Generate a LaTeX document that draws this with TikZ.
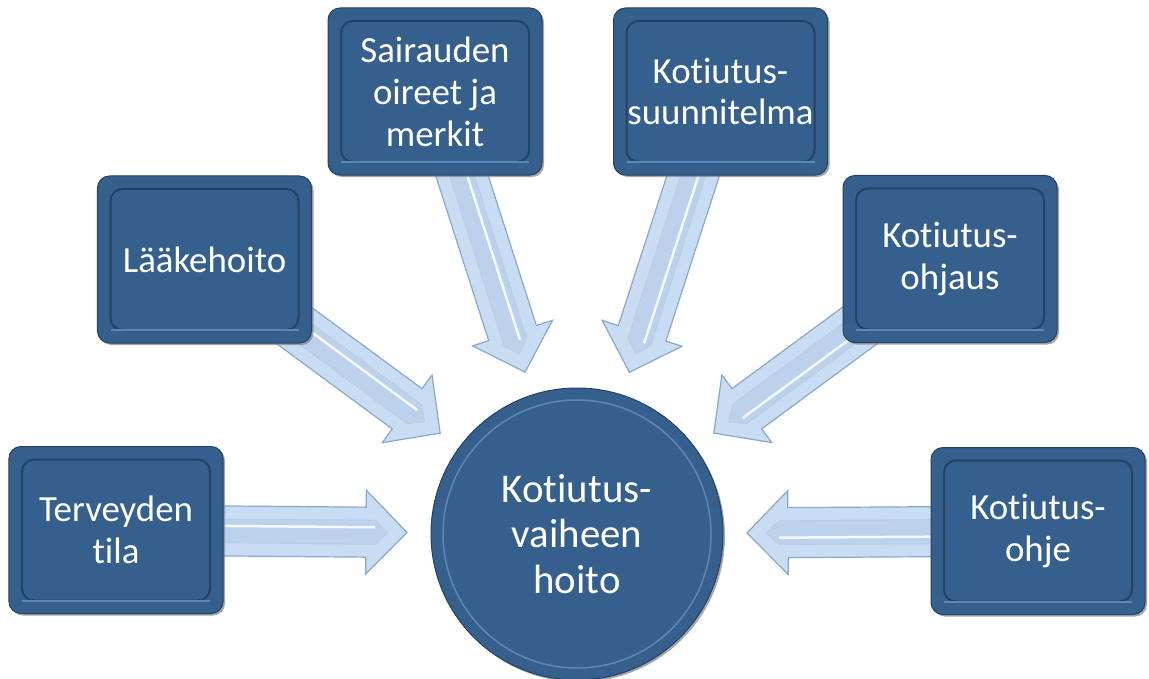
\documentclass[tikz,border=0pt]{standalone}
\usepackage{fontspec}
\setmainfont{Carlito}[RawFeature={-liga;-clig;-calt;-dlig}]
\usetikzlibrary{calc,shadows,backgrounds}

\definecolor{boxblue}{RGB}{53,96,141}
\definecolor{boxline}{RGB}{36,66,100}
\definecolor{boxbevel}{RGB}{92,134,180}
\definecolor{arrowfill}{RGB}{200,220,243}
\definecolor{arrowline}{RGB}{138,168,204}
\definecolor{arrowinner}{RGB}{188,209,236}

% #1 = box, #2 = tip
\newcommand\fatarrow[2]{%
  \coordinate (hb) at ($(#2)!41bp!(#1.center)$);
  \coordinate (ib) at ($(#2)!32bp!(#1.center)$);
  \coordinate (ip) at ($(#2)!19bp!(#1.center)$);
  \filldraw[arrowbody] ($(#1.center)!25bp!90:(#2)$) -- ($(hb)!25bp!90:(#2)$) --
    ($(hb)!42bp!90:(#2)$) -- (#2) -- ($(hb)!42bp!-90:(#2)$) --
    ($(hb)!25bp!-90:(#2)$) -- ($(#1.center)!25bp!-90:(#2)$) -- cycle;
  \filldraw[arrowcore] ($(#1.center)!12bp!90:(#2)$) -- ($(ib)!12bp!90:(#2)$) --
    (ip) -- ($(ib)!12bp!-90:(#2)$) -- ($(#1.center)!12bp!-90:(#2)$) -- cycle;
  \draw[arrowshine] ($(#1.center)!5bp!90:(#2)$) -- ($(ib)!5bp!90:(#2)$);
}

\begin{document}
\begin{tikzpicture}[x=1bp, y=-1bp,
  infobox/.style={rectangle, rounded corners=12bp, minimum width=214bp,
    minimum height=167bp, inner sep=0pt, fill=boxblue, draw=boxline,
    line width=1bp, text=white, align=center,
    font=\fontsize{37}{42}\selectfont,
    drop shadow={shadow xshift=2bp, shadow yshift=-2bp, opacity=.7},
    path picture={
      \draw[boxline, line width=2bp]
        ([shift={(13bp,-13bp)}]path picture bounding box.north west) rectangle
        ([shift={(-13bp,13bp)}]path picture bounding box.south east);
      \draw[boxbevel, line width=2bp]
        ([shift={(13bp,13bp)}]path picture bounding box.south west) --
        ([shift={(-13bp,13bp)}]path picture bounding box.south east);}},
  hubcircle/.style={circle, minimum size=292bp, inner sep=0pt, fill=boxblue,
    draw=boxline, line width=1bp, text=white, align=center,
    font=\fontsize{41}{46}\selectfont,
    drop shadow={shadow xshift=2bp, shadow yshift=-2bp, opacity=.7},
    path picture={
      \draw[boxbevel, line width=1.5bp]
        (path picture bounding box.center) circle[radius=134bp];}},
  arrowbody/.style={fill=arrowfill, draw=arrowline, line width=1.2bp, line join=miter},
  arrowcore/.style={fill=arrowinner, draw=arrowline!60, line width=.6bp},
  arrowshine/.style={draw=white, line width=2.5bp, opacity=.85}]
\useasboundingbox (0,0) rectangle (1149,679);

\node[hubcircle] (hoito) at (577,534) {Kotiutus-\\vaiheen\\hoito};

\node[infobox] (tila) at (116,530) {Terveyden\\tila};
\node[infobox] (laake) at (204.5,259.5) {Lääkehoito};
\node[infobox] (oireet) at (435,91.5) {Sairauden\\oireet ja\\merkit};
\node[infobox] (suunn) at (720.5,91.5) {Kotiutus-\\suunnitelma};
\node[infobox] (ohjaus) at (950,259) {Kotiutus-\\ohjaus};
\node[infobox] (ohje) at (1038,531) {Kotiutus-\\ohje};

\begin{scope}[on background layer]
\foreach \b in {tila,laake,oireet,suunn,ohjaus,ohje} {
  \coordinate (tip-\b) at ($(hoito.center)!170bp!(\b.center)$);
  \fatarrow{\b}{tip-\b}
}
\end{scope}
\end{tikzpicture}
\end{document}
